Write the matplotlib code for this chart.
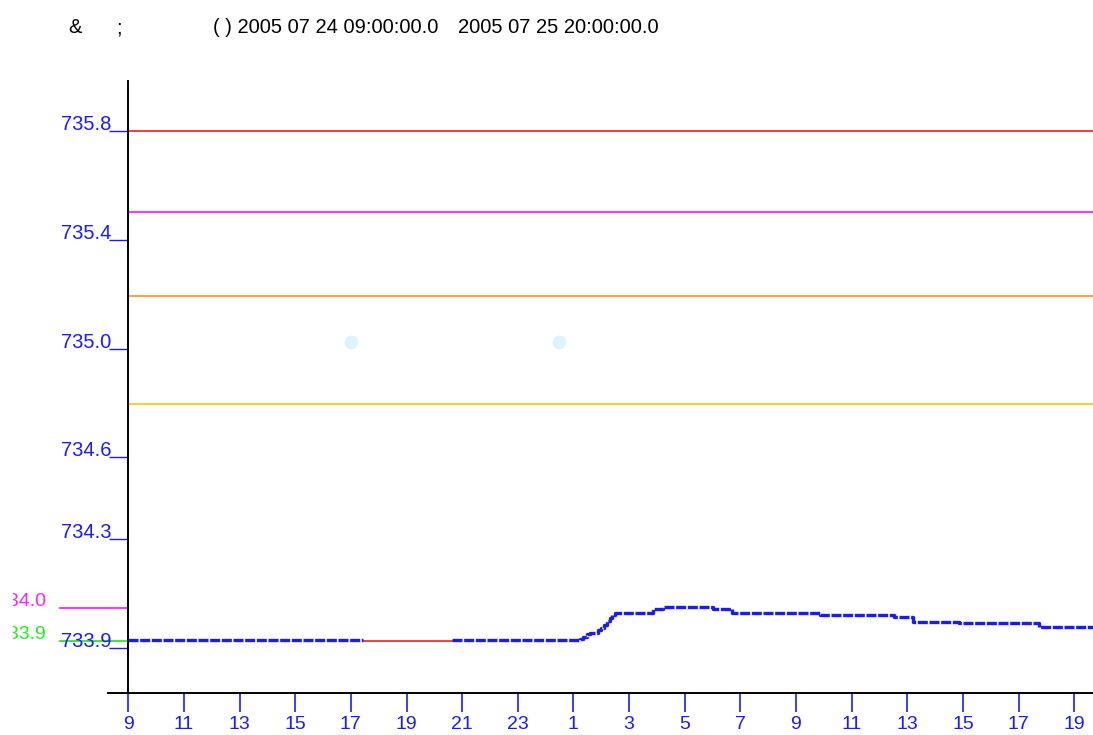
import matplotlib
matplotlib.use("Agg")
import matplotlib.pyplot as plt
from matplotlib.lines import Line2D
from matplotlib.transforms import Bbox, TransformedBbox

# ---------------- data ----------------
# time axis: hours after 2005-07-24 09:00
xtick_hours = [0, 2, 4, 6, 8, 10, 12, 14, 16, 18, 20, 22, 24, 26, 28, 30, 32, 34]
xtick_labels = ["9", "11", "13", "15", "17", "19", "21", "23", "1", "3", "5", "7",
                "9", "11", "13", "15", "17", "19"]
ytick_values = [735.8, 735.4, 735.0, 734.6, 734.3, 733.9]
ytick_labels = ["735.8", "735.4", "735.0", "734.6", "734.3", "733.9"]

# measured water level (blue, step series)
seg1_t = [0.0, 8.44]
seg1_v = [733.928, 733.928]
seg2_t = [11.63, 16.23, 16.35, 16.50, 16.60, 16.90, 17.00, 17.10, 17.20, 17.30, 17.40,
          17.50, 18.85, 19.21, 21.00, 21.69, 24.85, 27.54, 28.19, 29.87, 32.75, 34.68]
seg2_v = [733.928, 733.934, 733.940, 733.952, 733.956, 733.965, 733.973, 733.985,
          733.998, 734.010, 734.020, 734.027, 734.043, 734.052, 734.043, 734.027,
          734.021, 734.013, 733.997, 733.993, 733.978, 733.978]
# missing-data interpolation (red)
gap_t = [8.44, 11.63]
gap_v = [733.926, 733.926]

# reference levels
level_values = [735.8, 735.5, 735.193, 734.796]
level_colors = ["#ff2a2a", "#ff22ff", "#ff9933", "#ffcc11"]
side_values = [734.047, 733.926]
side_labels = ["734.0", "733.9"]
side_colors = ["#ff22ff", "#22ee22"]

# faint markers
dot_t = [8.02, 15.49]
dot_v = [735.024, 735.024]

title_parts = ["&", ";", "( ) 2005 07 24 09:00:00.0", "2005 07 25 20:00:00.0"]

# ---------------- figure ----------------
W, H = 1093, 735
fig = plt.figure(figsize=(W / 100, H / 100), dpi=100)
x0, y_bot, y_top = 128.3, 693.0, 80.7
ax = fig.add_axes([x0 / W, 1 - y_bot / H, 1 - x0 / W, (y_bot - y_top) / H])

px_per_unit = 272.26
px_per_hour = 27.82
ymax = 735.8 + (130.7 - y_top) / px_per_unit
ymin = 735.8 - (y_bot - 130.7) / px_per_unit
xmax = (W - x0) / px_per_hour
ax.set_xlim(0, xmax)
ax.set_ylim(ymin, ymax)

BLUE = "#1a1aff"
FONT = "Liberation Sans"

for v, c in zip(level_values, level_colors):
    ax.axhline(v, color=c, lw=1.3, zorder=2)

for v, c, lab in zip(side_values, side_colors, side_labels):
    ax.plot([-(x0 - 60) / px_per_hour, 0], [v, v], color=c, lw=1.3, clip_on=False, zorder=2)
    t = ax.text((46 - x0) / px_per_hour, v + 1.5 / px_per_unit, lab, color=c, fontsize=14,
                family=FONT, ha="right", va="baseline", clip_on=True)
    t.set_clip_box(TransformedBbox(Bbox([[13 / W, 0], [1, 1]]), fig.transFigure))

ax.plot(dot_t, dot_v, "o", color="#dff3fc", ms=10, mec="none", zorder=1)

ax.plot(gap_t, gap_v, color="#ff2a2a", lw=1.3, zorder=3)
ax.plot(seg1_t, seg1_v, color=BLUE, lw=2.4, ls=(0, (3, 0.5)), drawstyle="steps-post", zorder=4)
ax.plot(seg2_t, seg2_v, color=BLUE, lw=2.4, ls=(0, (3, 0.5)), drawstyle="steps-post", zorder=4)

# spines
for s in ["top", "right", "bottom"]:
    ax.spines[s].set_visible(False)
ax.spines["left"].set_color("black")
ax.spines["left"].set_linewidth(1.4)
fig.add_artist(Line2D([108 / W, 1], [1 - y_bot / H, 1 - y_bot / H], color="black", lw=1.4))

# y ticks
ax.set_yticks(ytick_values)
ax.set_yticklabels([])
ax.tick_params(axis="y", direction="out", length=14, width=1, color=BLUE)
for v, lab in zip(ytick_values, ytick_labels):
    ax.text(-17.0 / px_per_hour, v + 1 / px_per_unit, lab, color=BLUE, fontsize=14.5,
            family=FONT, ha="right", va="baseline", clip_on=False)

# x ticks
ax.set_xticks(xtick_hours)
ax.set_xticklabels(xtick_labels, color=BLUE, fontsize=14, family=FONT)
ax.tick_params(axis="x", direction="out", length=14, width=1.2, color=BLUE, pad=2.5)

# title
ty = 1 - 33 / H
fig.text(68 / W, ty, title_parts[0], fontsize=14.5, family=FONT, color="black")
fig.text(116 / W, ty, title_parts[1], fontsize=14.5, family=FONT, color="black")
fig.text(213 / W, ty, title_parts[2], fontsize=14.5, family=FONT, color="black")
fig.text(458 / W, ty, title_parts[3], fontsize=14.5, family=FONT, color="black")

fig.savefig("out.png", dpi=100)
